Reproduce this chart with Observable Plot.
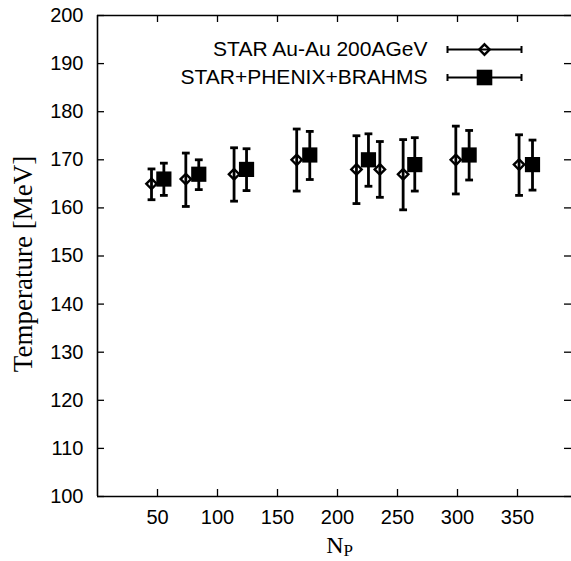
<!DOCTYPE html>
<html>
<head>
<meta charset="utf-8">
<script src="https://cdn.jsdelivr.net/npm/d3@7"></script>
<script src="https://cdn.jsdelivr.net/npm/@observablehq/plot@0.6"></script>
<style>
  html, body { margin: 0; padding: 0; background: #fff; }
  #chart svg { display: block; }
</style>
</head>
<body>
<div id="chart"></div>
<script>
// STAR Au-Au 200 AGeV
const starN  = [45, 73.6, 113.8, 166, 215.8, 235.3, 254.7, 298.6, 351.3];
const starT  = [165, 166, 167, 170, 168, 168, 167, 170, 169];
const starLo = [161.7, 160.3, 161.4, 163.5, 160.9, 162.2, 159.6, 162.9, 162.6];
const starHi = [168.1, 171.4, 172.5, 176.4, 175.0, 173.8, 174.2, 177.0, 175.2];
// STAR+PHENIX+BRAHMS
const combN  = [55.3, 84.4, 124.2, 176.9, 225.8, 264.4, 309.7, 362.5];
const combT  = [166, 167, 168, 171, 170, 169, 171, 169];
const combLo = [162.6, 163.8, 163.6, 165.9, 164.5, 163.5, 165.8, 163.7];
const combHi = [169.3, 170.0, 172.3, 175.9, 175.4, 174.6, 176.1, 174.1];

const xTicks = [50, 100, 150, 200, 250, 300, 350];
const yTicks = [100, 110, 120, 130, 140, 150, 160, 170, 180, 190, 200];
const seriesNames = ["STAR Au-Au 200AGeV", "STAR+PHENIX+BRAHMS"];
const xLabelMain = "N", xLabelSub = "P";
const yLabel = "Temperature [MeV]";

const star = starN.map((n, i) => ({n, t: starT[i], lo: starLo[i], hi: starHi[i]}));
const comb = combN.map((n, i) => ({n, t: combT[i], lo: combLo[i], hi: combHi[i]}));

const half = size => Math.sqrt(size / Math.PI);
const capSym = { draw(ctx, size) { const h = half(size); ctx.moveTo(-h, 0); ctx.lineTo(h, 0); } };
const diamondSym = { draw(ctx, size) { const h = half(size); ctx.moveTo(0, -h); ctx.lineTo(h, 0); ctx.lineTo(0, h); ctx.lineTo(-h, 0); ctx.closePath(); } };
const squareSym = { draw(ctx, size) { const h = half(size); ctx.rect(-h, -h, 2 * h, 2 * h); } };
const legendBarSym = { draw(ctx, size) { const h = half(size); ctx.moveTo(-h, 0); ctx.lineTo(h, 0); ctx.moveTo(-h, -3.5); ctx.lineTo(-h, 3.5); ctx.moveTo(h, -3.5); ctx.lineTo(h, 3.5); } };

const sans = "'Liberation Sans', Arial, Helvetica, sans-serif";
const serif = "'Liberation Serif', 'Times New Roman', Times, serif";

const W = 571, H = 561, mL = 97, mR = 0, mT = 15, mB = 65;
const fw = W - mL - mR, fh = H - mT - mB;

function errorSeries(data, sym, r, filled) {
  return [
    Plot.ruleX(data, {x: "n", y1: "lo", y2: "hi", stroke: "black", strokeWidth: 2.8}),
    Plot.dot(data, {x: "n", y: "lo", symbol: capSym, r: 3.9, stroke: "black", strokeWidth: 2.8, fill: "none"}),
    Plot.dot(data, {x: "n", y: "hi", symbol: capSym, r: 3.9, stroke: "black", strokeWidth: 2.8, fill: "none"}),
    Plot.dot(data, {x: "n", y: "t", symbol: sym, r, stroke: filled ? "none" : "black", strokeWidth: 2.4, fill: filled ? "black" : "none"})
  ];
}

function legendItem(label, sym, r, filled, dy) {
  return [
    Plot.text([label], {x: null, y: null, frameAnchor: "top-right", dx: -144, dy, text: d => d, textAnchor: "end", lineAnchor: "middle", fontSize: 21, fontFamily: sans, fill: "black"}),
    Plot.dot([label], {x: null, y: null, frameAnchor: "top-right", dx: -87, dy, symbol: legendBarSym, r: 37, stroke: "black", strokeWidth: 2, fill: "none"}),
    Plot.dot([label], {x: null, y: null, frameAnchor: "top-right", dx: -87, dy, symbol: sym, r, stroke: filled ? "none" : "black", strokeWidth: 2.4, fill: filled ? "black" : "none"})
  ];
}

const chart = Plot.plot({
  width: W, height: H,
  marginLeft: mL, marginRight: mR, marginTop: mT, marginBottom: mB,
  style: {fontFamily: sans, fontSize: "20px", color: "black", background: "white"},
  x: {domain: [0, 395], label: null},
  y: {domain: [100, 200], label: null},
  marks: [
    Plot.axisY({ticks: yTicks, tickSize: 0, tickPadding: 14, fontSize: 20, label: null, fontFamily: sans}),
    Plot.axisX({ticks: xTicks, tickSize: 0, tickPadding: 13, fontSize: 20, label: null, fontFamily: sans}),
    // inward tick marks (all four sides)
    Plot.tickY(yTicks, {y: d => d, insetRight: fw - 7, stroke: "black", strokeWidth: 1.3}),
    Plot.tickY(yTicks, {y: d => d, insetLeft: fw - 7, stroke: "black", strokeWidth: 1.3}),
    Plot.tickX(xTicks, {x: d => d, insetTop: fh - 7, stroke: "black", strokeWidth: 1.3}),
    Plot.tickX(xTicks, {x: d => d, insetBottom: fh - 7, stroke: "black", strokeWidth: 1.3}),
    // frame lines
    Plot.ruleX([0], {stroke: "black", strokeWidth: 1.6}),
    Plot.ruleY([100, 200], {stroke: "black", strokeWidth: 1.6}),
    // data
    ...errorSeries(star, diamondSym, 5.2, false),
    ...errorSeries(comb, squareSym, 7.6, true),
    // legend
    ...legendItem(seriesNames[0], diamondSym, 5.2, false, 34),
    ...legendItem(seriesNames[1], squareSym, 7.8, true, 62),
    // axis titles
    Plot.text([yLabel], {x: null, y: null, frameAnchor: "left", dx: -74, dy: 8, rotate: -90, text: d => d, textAnchor: "middle", lineAnchor: "middle", fontSize: 27, fontFamily: serif, fill: "black"}),
    Plot.text([xLabelMain], {x: null, y: null, frameAnchor: "bottom", dx: 9, dy: 49, text: d => d, textAnchor: "end", lineAnchor: "middle", fontSize: 24, fontFamily: serif, fill: "black"}),
    Plot.text([xLabelSub], {x: null, y: null, frameAnchor: "bottom", dx: 9, dy: 54, text: d => d, textAnchor: "start", lineAnchor: "middle", fontSize: 17, fontFamily: serif, fill: "black"})
  ]
});
document.getElementById("chart").appendChild(chart);
</script>
</body>
</html>
